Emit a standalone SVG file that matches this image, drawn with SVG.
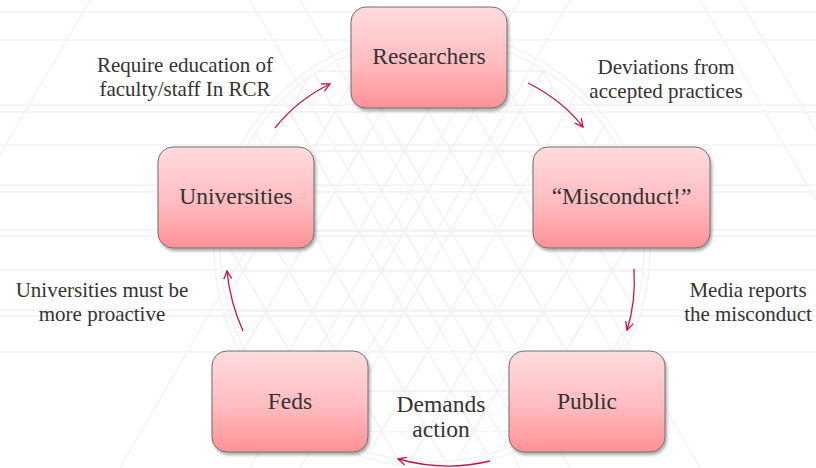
<svg xmlns="http://www.w3.org/2000/svg" width="816" height="468" viewBox="0 0 816 468">
  <defs>
    <linearGradient id="boxFill" x1="0" y1="0" x2="0" y2="1">
      <stop offset="0" stop-color="#ffdcdf"/>
      <stop offset="0.55" stop-color="#ffbcc0"/>
      <stop offset="1" stop-color="#ff9196"/>
    </linearGradient>
    <filter id="shadow" x="-10%" y="-10%" width="125%" height="130%">
      <feDropShadow dx="1.5" dy="2.5" stdDeviation="1.8" flood-color="#000" flood-opacity="0.35"/>
    </filter>
    <pattern id="lattice" patternUnits="userSpaceOnUse" width="46.19" height="80" x="12" y="31">
      <path d="M0,0 L46.19,0 M0,40 L46.19,40 M0,0 L46.19,80 M46.19,0 L0,80" stroke="#f0f0f0" stroke-width="1.4" fill="none"/>
    </pattern>
    <clipPath id="dome">
      <circle cx="432" cy="250" r="212"/>
    </clipPath>
    <marker id="head" viewBox="0 0 10 10" refX="9" refY="5" markerWidth="10" markerHeight="10" markerUnits="userSpaceOnUse" orient="auto">
      <path d="M1,1 L9,5 L1,9" fill="none" stroke="#c8163f" stroke-width="1.3"/>
    </marker>
  </defs>

  <!-- background: faint geometric lattice -->
  <rect width="816" height="468" fill="#ffffff"/>
  <g id="background" stroke="#f2f2f2" stroke-width="1.4" fill="none">
    <path d="M0,12 H816 M0,40 H816 M0,105 H816 M0,112 H816 M0,145 H816 M0,185 H816 M0,192 H816 M0,230 H816 M0,236 H816 M0,270 H816 M0,310 H816 M0,316 H816 M0,352 H816"/>
    <path d="M250,0 L520,468 M300,0 L570,468 M520,0 L250,468 M570,0 L300,468 M90,0 L0,155 M700,0 L816,200 M740,0 L816,130 M120,468 L260,226 M700,468 L600,295"/>
    <rect x="200" y="30" width="470" height="440" fill="url(#lattice)" stroke="none" clip-path="url(#dome)"/>
    <circle cx="432" cy="250" r="212"/>
    <circle cx="432" cy="250" r="218"/>
  </g>

  <!-- connectors -->
  <g id="connectors" fill="none" stroke="#c8163f" stroke-width="1.3" marker-end="url(#head)">
    <path d="M275,128 Q297,100 330,84"/>
    <path d="M528,83 Q562,100 583,127"/>
    <path d="M634,269 Q636,302 627,330"/>
    <path d="M490,461 Q445,472 398,459"/>
    <path d="M243,331 Q230,302 227,271"/>
  </g>

  <!-- connector labels -->
  <g id="labels" fill="#333333" text-anchor="middle" font-size="21">
    <text font-family="Liberation Serif" x="185" y="72">Require education of</text>
    <text font-family="Liberation Serif" x="185" y="96">faculty/staff In RCR</text>
    <text font-family="Liberation Serif" x="666" y="74">Deviations from</text>
    <text font-family="Liberation Serif" x="666" y="98">accepted practices</text>
    <text font-family="Liberation Serif" x="748" y="297">Media reports</text>
    <text font-family="Liberation Serif" x="748" y="321">the misconduct</text>
    <text font-family="Liberation Serif" font-size="23.5" x="441" y="412">Demands</text>
    <text font-family="Liberation Serif" font-size="23.5" x="441" y="437">action</text>
    <text font-family="Liberation Serif" x="102" y="297">Universities must be</text>
    <text font-family="Liberation Serif" x="102" y="321">more proactive</text>
  </g>

  <!-- nodes -->
  <g id="node-researchers">
    <rect x="351" y="7" width="156" height="101" rx="15" fill="url(#boxFill)" stroke="#6e6e6e" filter="url(#shadow)"/>
    <text font-family="Liberation Serif" font-size="23.5" fill="#333333" text-anchor="middle" x="429" y="64">Researchers</text>
  </g>
  <g id="node-misconduct">
    <rect x="533" y="147" width="177" height="101" rx="15" fill="url(#boxFill)" stroke="#6e6e6e" filter="url(#shadow)"/>
    <text font-family="Liberation Serif" font-size="23.5" fill="#333333" text-anchor="middle" x="621.5" y="204">“Misconduct!”</text>
  </g>
  <g id="node-public">
    <rect x="509" y="351" width="156" height="101" rx="15" fill="url(#boxFill)" stroke="#6e6e6e" filter="url(#shadow)"/>
    <text font-family="Liberation Serif" font-size="23.5" fill="#333333" text-anchor="middle" x="587" y="409">Public</text>
  </g>
  <g id="node-feds">
    <rect x="212" y="351" width="156" height="101" rx="15" fill="url(#boxFill)" stroke="#6e6e6e" filter="url(#shadow)"/>
    <text font-family="Liberation Serif" font-size="23.5" fill="#333333" text-anchor="middle" x="290" y="409">Feds</text>
  </g>
  <g id="node-universities">
    <rect x="158" y="147" width="156" height="101" rx="15" fill="url(#boxFill)" stroke="#6e6e6e" filter="url(#shadow)"/>
    <text font-family="Liberation Serif" font-size="23.5" fill="#333333" text-anchor="middle" x="236" y="204">Universities</text>
  </g>
</svg>
